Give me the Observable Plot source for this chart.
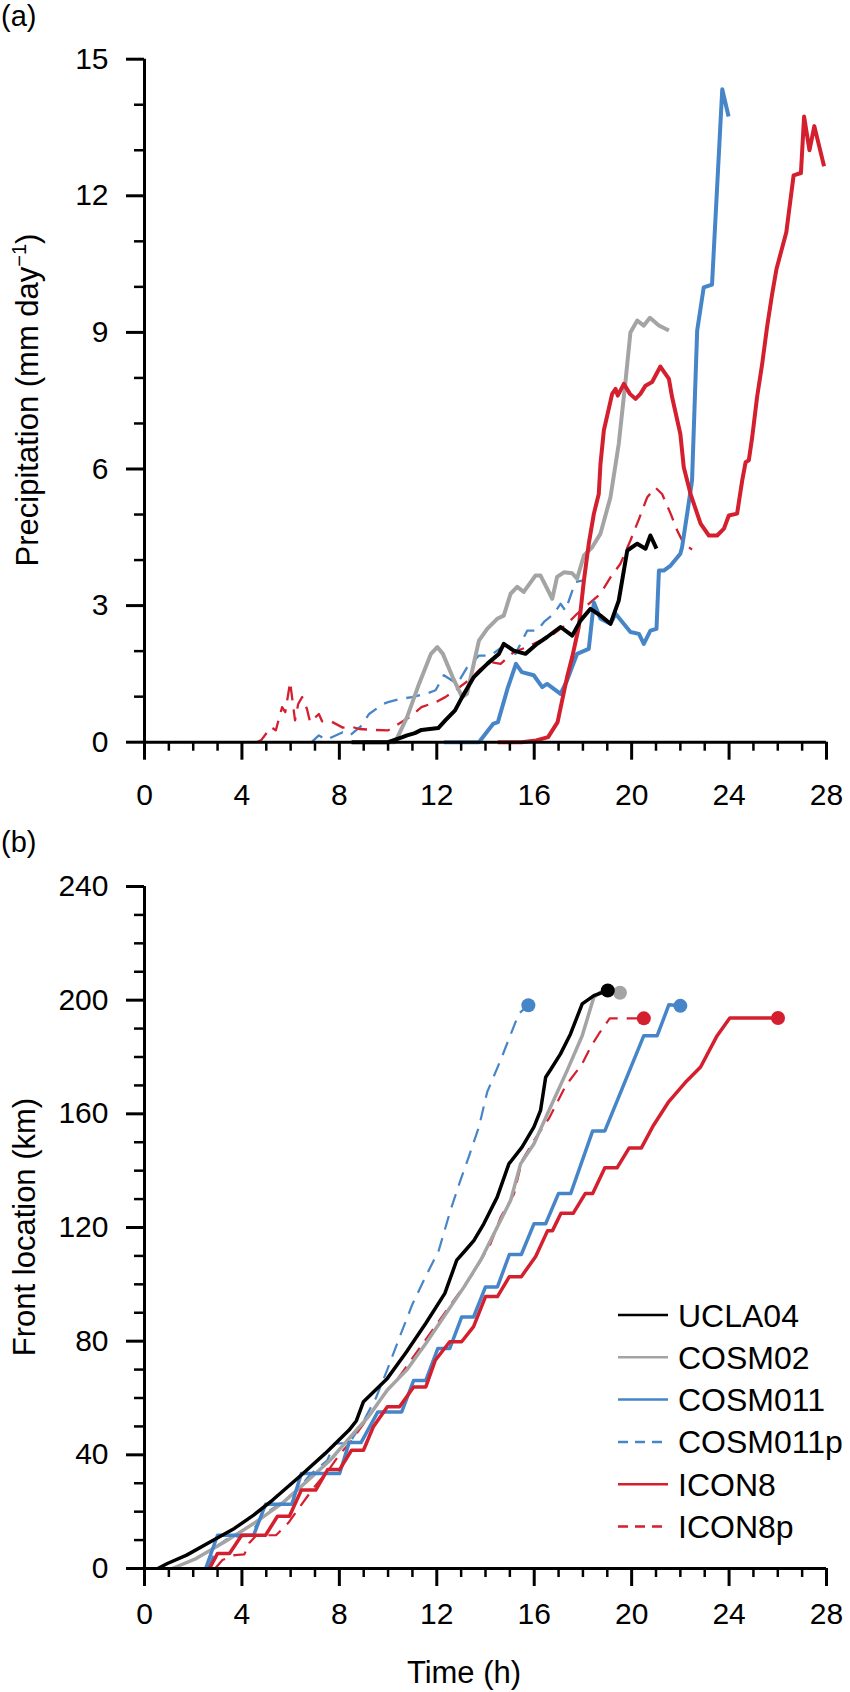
<!DOCTYPE html>
<html><head><meta charset="utf-8">
<script src="https://cdn.jsdelivr.net/npm/d3@7"></script>
<script src="https://cdn.jsdelivr.net/npm/@observablehq/plot@0.6"></script>
<style>
body{margin:0;background:#fff}
#wrap{position:relative;width:850px;height:1692px;font-family:"Liberation Sans",Arial,sans-serif;background:#fff}
#wrap svg{position:absolute;left:0}
</style>
</head><body><div id="wrap"></div>
<script>
// ---- series metadata ----
const seriesNames = ["UCLA04","COSM02","COSM011","COSM011p","ICON8","ICON8p"];
const seriesColors = ["#000000","#a4a4a4","#4686c8","#4686c8","#d41f2e","#d41f2e"];
const seriesDashed = [false,false,false,true,false,true];

// ---- tick values ----
const timeMajor = [0,4,8,12,16,20,24,28];
const timeMinor = [1,2,3,5,6,7,9,10,11,13,14,15,17,18,19,21,22,23,25,26,27];
const precipMajor = [0,3,6,9,12,15];
const precipMinor = [1,2,4,5,7,8,10,11,13,14];
const frontMajor = [0,40,80,120,160,200,240];
const frontMinor = [10,20,30,50,60,70,90,100,110,130,140,150,170,180,190,210,220,230];

// ---- (a) precipitation, [time h, mm/day] ----
const precipUCLA04 = [[8.5,0],[10.0,0],[10.59,0.11],[10.78,0.15],[11.1,0.2],[11.37,0.27],[12.06,0.31],[12.35,0.48],[12.75,0.70],[13.04,0.99],[13.52,1.43],[14.07,1.72],[14.55,1.94],[14.75,2.16],[15.16,2.01],[15.64,1.94],[16.12,2.16],[16.53,2.31],[17.08,2.53],[17.56,2.34],[17.9,2.67],[18.31,2.93],[18.72,2.78],[19.13,2.6],[19.47,3.11],[19.82,4.21],[20.23,4.36],[20.57,4.25],[20.77,4.54],[21.02,4.25]];
const precipCOSM02 = [[9.0,0],[10.29,0],[10.78,0.55],[11.27,1.28],[11.76,1.94],[12.02,2.09],[12.25,1.94],[12.65,1.43],[13.04,0.99],[13.24,1.06],[13.73,2.23],[14.07,2.49],[14.48,2.71],[14.75,2.78],[15.03,3.26],[15.3,3.41],[15.57,3.3],[16.05,3.66],[16.26,3.66],[16.74,3.15],[16.94,3.63],[17.22,3.73],[17.56,3.71],[17.76,3.59],[18.04,4.1],[18.38,4.28],[18.72,4.58],[19.13,5.38],[19.47,6.55],[19.75,7.94],[19.95,9.0],[20.23,9.26],[20.5,9.15],[20.75,9.32],[21.12,9.15],[21.53,9.04]];
const precipCOSM011 = [[12.3,0],[13.73,0],[14.31,0.4],[14.51,0.44],[14.9,1.17],[15.25,1.72],[15.49,1.54],[15.98,1.47],[16.33,1.21],[16.53,1.28],[17.08,1.06],[17.35,1.36],[17.76,1.94],[18.24,2.05],[18.45,3.07],[18.72,2.71],[19.13,2.6],[19.34,2.82],[19.95,2.42],[20.3,2.38],[20.5,2.16],[20.77,2.45],[21.02,2.49],[21.12,3.77],[21.32,3.77],[21.6,3.88],[22.0,4.14],[22.07,4.28],[22.28,5.02],[22.48,5.75],[22.62,7.94],[22.69,9.04],[22.96,9.99],[23.3,10.05],[23.72,14.34],[23.98,13.74]];
const precipCOSM011p = [[6.86,0],[7.16,0.15],[7.45,0.05],[8.14,0.22],[8.43,0.15],[8.92,0.37],[9.22,0.62],[9.8,0.84],[10.0,0.88],[10.5,0.95],[10.98,0.99],[11.54,1.06],[11.95,1.14],[12.29,1.47],[12.84,1.28],[13.25,1.65],[13.73,1.9],[14.2,1.9],[14.75,2.12],[15.23,1.94],[15.71,2.45],[16.12,2.45],[16.4,2.64],[16.8,2.82],[17.08,3.04],[17.28,2.89],[17.69,3.52],[17.97,3.55]];
const precipICON8 = [[14.5,0],[15.49,0],[16.08,0.04],[16.57,0.11],[16.96,0.44],[17.16,0.95],[17.35,1.43],[17.56,1.87],[17.83,2.53],[18.04,3.55],[18.24,4.36],[18.45,5.02],[18.65,5.45],[18.72,6.11],[18.86,6.85],[19.2,7.65],[19.34,7.76],[19.43,7.61],[19.68,7.87],[19.93,7.65],[20.16,7.54],[20.36,7.65],[20.57,7.83],[20.84,7.91],[21.18,8.25],[21.53,7.98],[21.66,7.58],[22.0,6.77],[22.14,6.04],[22.42,5.45],[22.83,4.8],[23.17,4.54],[23.51,4.54],[23.79,4.69],[23.99,4.98],[24.33,5.02],[24.54,5.75],[24.68,6.15],[24.81,6.19],[24.95,6.7],[25.15,7.58],[25.36,8.31],[25.56,9.12],[25.77,9.85],[25.95,10.4],[26.35,11.2],[26.65,12.45],[26.95,12.5],[27.08,13.74],[27.3,13.0],[27.5,13.53],[27.9,12.65]];
const precipICON8p = [[4.6,0],[4.8,0.05],[5.2,0.33],[5.39,0.26],[5.65,0.77],[5.78,0.66],[5.98,1.32],[6.04,1.06],[6.18,0.48],[6.31,0.84],[6.47,0.99],[6.67,0.73],[6.8,0.44],[7.16,0.62],[7.29,0.46],[7.65,0.46],[8.14,0.32],[8.43,0.35],[8.82,0.29],[9.41,0.27],[10.0,0.26],[10.49,0.42],[10.88,0.55],[11.37,0.77],[11.96,0.88],[12.35,0.99],[12.84,1.17],[13.38,1.39],[13.79,1.61],[14.2,1.76],[14.62,1.72],[15.16,1.98],[15.71,2.09],[16.26,2.23],[16.8,2.38],[17.35,2.6],[17.76,2.82],[18.31,3.07],[18.72,3.26],[19.13,3.62],[19.54,3.92],[19.95,4.43],[20.3,4.9],[20.64,5.38],[20.98,5.59],[21.25,5.45],[21.6,5.02],[21.87,4.65],[22.14,4.36],[22.48,4.23]];

// ---- (b) front location, [time h, km] ----
const frontUCLA04 = [[0.55,0],[0.94,1.76],[1.73,4.7],[2.71,9.4],[3.69,14.1],[4.48,18.8],[5.26,24.1],[6.44,32.9],[7.42,40.5],[8.4,48.7],[8.7,52],[8.99,58.7],[9.97,66.9],[10.76,76.3],[11.55,86.3],[12.33,96.8],[12.82,108.5],[13.17,111.9],[13.52,115.4],[13.93,121.3],[14.48,130.7],[14.96,142.4],[15.5,148.3],[15.99,155.4],[16.26,161.2],[16.47,172.9],[16.67,175.5],[17.08,181.1],[17.49,188.1],[17.97,198.7],[18.45,201.6],[19.02,203.4]];
const frontCOSM02 = [[1.14,0],[2.12,3.5],[3.3,9.4],[4.48,15.8],[5.65,22.9],[6.64,30.5],[7.62,38.1],[8.4,45.8],[9.19,53.4],[9.97,62.8],[10.76,69.8],[11.55,79.2],[12.33,89.1],[13.12,99.1],[13.8,108.5],[14.48,120.1],[15.03,129.5],[15.44,142.4],[15.99,149.5],[16.67,162.4],[17.35,175.2],[17.97,187.5],[18.45,201.1],[18.72,202.8],[19.52,202.6]];
const frontCOSM011 = [[2.51,0],[3.0,11.7],[4.48,11.7],[4.97,22.6],[6.05,22.6],[6.44,33.4],[8.01,33.4],[8.4,44.3],[8.89,44.3],[9.58,55.1],[10.56,55.1],[11.05,66.2],[11.55,66.2],[12.04,77.4],[12.53,77.4],[13.02,88.5],[13.51,88.5],[14.0,99.1],[14.49,99.1],[14.98,110.5],[15.47,110.5],[15.99,121.3],[16.47,121.3],[17.0,132],[17.5,132],[18.4,154],[18.9,154],[20.5,187.5],[21.05,187.5],[21.53,198.4],[22.0,198.0]];
const frontCOSM011p = [[2.6,0],[3.0,8],[3.5,11],[4.3,11.5],[4.9,19],[5.5,22.5],[6.2,27],[6.8,33],[7.5,38],[7.8,44],[8.4,44],[9.0,52],[9.5,60],[9.97,70],[10.5,82],[11.0,93],[11.5,102],[12.08,111.9],[12.56,126],[12.97,136.6],[13.31,144.8],[13.73,155.4],[14.07,167.7],[14.62,178.9],[15.37,195.3],[15.76,198.2]];
const frontICON8 = [[2.67,0],[3.0,5.3],[3.49,5.3],[3.99,11.7],[4.97,11.7],[5.46,18.4],[5.95,18.4],[6.44,27.6],[7.03,27.6],[7.52,34.8],[8.01,34.8],[8.5,41.6],[8.99,41.6],[9.39,49.8],[9.97,56.9],[10.47,56.9],[11.05,63.9],[11.55,63.9],[11.94,73.3],[12.53,79.8],[13.02,79.8],[13.51,85.1],[14.0,95.7],[14.49,95.7],[14.98,102.7],[15.47,102.7],[16.06,109.8],[16.55,118.9],[16.75,118.9],[17.1,125],[17.6,125],[18.1,132],[18.4,132],[18.9,141],[19.4,141],[19.9,148],[20.4,148],[20.9,156],[21.5,164],[22.2,171],[22.83,176.5],[23.51,187.5],[24.03,193.7],[26.01,193.7]];
const frontICON8p = [[2.9,0],[3.2,3],[3.7,4.7],[4.1,5],[4.3,9],[4.6,11.7],[5.4,11.7],[5.9,16],[6.4,22],[7.0,29],[7.5,34],[8.0,40],[8.5,45],[9.0,51],[9.5,57],[10.0,63],[10.5,68],[11.0,74],[11.5,80],[12.0,86],[12.5,92],[13.0,98],[13.5,104],[14.21,114.3],[14.62,123.6],[15.17,131.8],[15.5,143.6],[15.99,150.6],[16.6,158.3],[17.3,170],[17.97,177.6],[18.31,183.4],[18.65,188.1],[19.1,193.6],[20.5,193.6]];

// end markers of front (b)
const frontEndT = [19.02,19.52,22.0,15.76,26.01,20.5];
const frontEndKm = [203.4,202.6,198.0,198.2,193.7,193.6];

const precipSeries = [precipUCLA04,precipCOSM02,precipCOSM011,precipCOSM011p,precipICON8,precipICON8p];
const frontSeries = [frontUCLA04,frontCOSM02,frontCOSM011,frontCOSM011p,frontICON8,frontICON8p];
const drawOrder = [3,5,1,2,4,0];

function seriesMarks(arrs, solidW, dashW) {
  return drawOrder.map(i => Plot.line(arrs[i], {
    x: d => d[0], y: d => d[1],
    stroke: seriesColors[i],
    strokeWidth: seriesDashed[i] ? dashW : solidW,
    strokeDasharray: seriesDashed[i] ? "14,9" : null,
    strokeLinejoin: "round", strokeLinecap: "butt"
  }));
}
function axisMarks(xPad, yMaj, yMin) {
  return [
    Plot.axisX(timeMinor, {tickSize: 9, strokeWidth: 2.5, tickFormat: () => "", label: null}),
    Plot.axisX(timeMajor, {tickSize: 18, strokeWidth: 3, tickPadding: xPad, fontSize: 30, label: null}),
    Plot.axisY(yMin, {tickSize: 10, strokeWidth: 2.5, tickFormat: () => "", label: null}),
    Plot.axisY(yMaj, {tickSize: 18, strokeWidth: 3, tickPadding: 18, fontSize: 30, label: null}),
    Plot.ruleY([0], {strokeWidth: 3}),
    Plot.ruleX([0], {strokeWidth: 3})
  ];
}
const baseStyle = {fontFamily: '"Liberation Sans", Arial, sans-serif', background: "transparent", color: "black", overflow: "visible"};

const plotA = Plot.plot({
  width: 850, height: 800,
  marginLeft: 144, marginRight: 24, marginTop: 58.7, marginBottom: 58.3,
  x: {domain: [0, 28]}, y: {domain: [0, 15]},
  style: baseStyle,
  marks: [...seriesMarks(precipSeries, 4, 2.3), ...axisMarks(23.5, precipMajor, precipMinor)]
});

const endDots = drawOrder.map(i => Plot.dot([[frontEndT[i], frontEndKm[i]]], {
  x: d => d[0], y: d => d[1], r: 7, fill: seriesColors[i], stroke: "none"
}));
const plotB = Plot.plot({
  width: 850, height: 892,
  marginLeft: 144, marginRight: 24, marginTop: 86, marginBottom: 124,
  x: {domain: [0, 28]}, y: {domain: [0, 240]},
  style: baseStyle,
  marks: [...seriesMarks(frontSeries, 3.5, 2.2), ...endDots, ...axisMarks(16.5, frontMajor, frontMinor)]
});

const wrap = document.getElementById("wrap");
plotA.style.top = "0px";
plotB.style.top = "800px";
wrap.appendChild(plotB);
wrap.appendChild(plotA);

const ff = '"Liberation Sans", Arial, sans-serif';
// titles and labels for (a)
const sA = d3.select(plotA);
sA.append("text").attr("x", 1).attr("y", 26).attr("text-anchor", "start").attr("font-size", 29).attr("font-family", ff).attr("fill", "black").text("(a)");
const yt = sA.append("text").attr("transform", "translate(38,400) rotate(-90)").attr("text-anchor", "middle")
  .attr("font-size", 31).attr("font-family", ff).attr("fill", "black");
yt.append("tspan").text("Precipitation (mm day");
yt.append("tspan").attr("dy", -12).attr("font-size", 20).text("\u22121");
yt.append("tspan").attr("dy", 12).text(")");

// titles, labels and legend for (b)
const sB = d3.select(plotB);
sB.append("text").attr("x", 1).attr("y", 52).attr("text-anchor", "start").attr("font-size", 29).attr("font-family", ff).attr("fill", "black").text("(b)");
sB.append("text").attr("transform", "translate(35,427) rotate(-90)").attr("text-anchor", "middle")
  .attr("font-size", 31).attr("font-family", ff).attr("fill", "black").text("Front location (km)");
sB.append("text").attr("x", 464).attr("y", 882.5).attr("text-anchor", "middle")
  .attr("font-size", 31).attr("font-family", ff).attr("fill", "black").text("Time (h)");
const lg = sB.append("g");
seriesNames.forEach((n, i) => {
  const y = 515 + i * 42.3;
  lg.append("line").attr("x1", 618).attr("x2", 668).attr("y1", y).attr("y2", y)
    .attr("stroke", seriesColors[i]).attr("stroke-width", 2.5)
    .attr("stroke-dasharray", seriesDashed[i] ? "10,7" : null);
  lg.append("text").attr("x", 678).attr("y", y).attr("dy", "0.36em").attr("text-anchor", "start")
    .attr("font-size", 32).attr("font-family", ff).attr("fill", "black").text(n);
});
</script></body></html>
